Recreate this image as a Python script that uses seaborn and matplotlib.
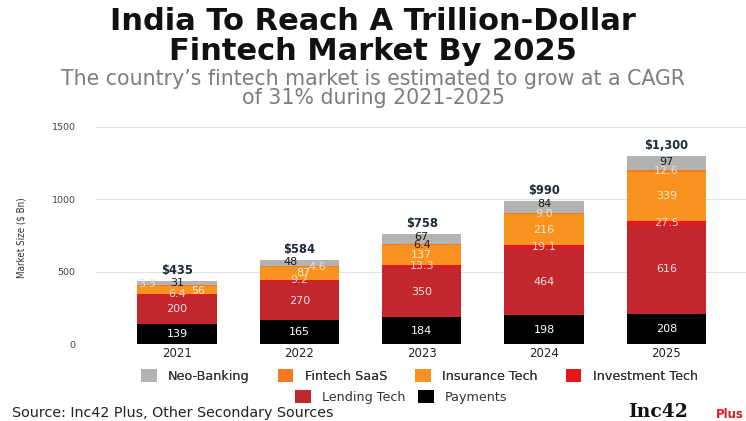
import matplotlib
matplotlib.use("Agg")
import matplotlib.pyplot as plt
from matplotlib.patches import Patch
import pandas as pd
import seaborn as sns

# Market size by segment, US$ billion
years = ["2021", "2022", "2023", "2024", "2025"]
payments = [139, 165, 184, 198, 208]
lending_tech = [200, 270, 350, 464, 616]
investment_tech = [6.4, 9.2, 13.3, 19.1, 27.5]
insurance_tech = [56, 87, 137, 216, 339]
fintech_saas = [3.3, 4.6, 6.4, 9.0, 12.6]
neo_banking = [31, 48, 67, 84, 97]
total_labels = ["$435", "$584", "$758", "$990", "$1,300"]

# stacking order, bottom to top: (name, values, fill, decimals shown)
segments = [
    ("Payments", payments, "#000000", 0),
    ("Lending Tech", lending_tech, "#c1272d", 0),
    ("Investment Tech", investment_tech, "#e8151c", 1),
    ("Insurance Tech", insurance_tech, "#f7931e", 0),
    ("Fintech SaaS", fintech_saas, "#f47a20", 1),
    ("Neo-Banking", neo_banking, "#b3b3b3", 0),
]
label_colors = {
    "Payments": "#ffffff",
    "Lending Tech": "#f8e0e0",
    "Investment Tech": "#f9d2d2",
    "Insurance Tech": "#fdeccf",
    "Fintech SaaS": "#fcdcbc",
    "Neo-Banking": "#1a1a1a",
}

sns.set_theme(style="white")
plt.rcParams["font.family"] = ["DejaVu Sans"]

fig = plt.figure(figsize=(7.46, 4.21), dpi=100)
ax = fig.add_axes([95 / 746, 77 / 421, 651 / 746, 217 / 421])

# cumulative tops of each layer
rows = []
running = [0.0] * len(years)
for name, vals, color, dec in segments:
    bottoms = list(running)
    running = [b + v for b, v in zip(running, vals)]
    for i, y in enumerate(years):
        rows.append(dict(year=y, segment=name, value=vals[i], dec=dec,
                         bottom=bottoms[i], top=running[i], color=color))
df = pd.DataFrame(rows)

# draw from the top layer downwards so each bar covers the one above's lower part
for name, vals, color, dec in reversed(segments):
    sub = df[df["segment"] == name]
    sns.barplot(data=sub, x="year", y="top", order=years, color=color,
                saturation=1, width=0.65, linewidth=0, ax=ax, zorder=2)

# nudges for the crowded small segments (x in category units, y in $ Bn)
nudges = {
    (0, "Fintech SaaS"): (-0.245, 12),
    (0, "Insurance Tech"): (0.17, -7),
    (1, "Fintech SaaS"): (0.15, 0),
    (1, "Neo-Banking"): (-0.07, 4),
    (1, "Insurance Tech"): (0.03, 0),
    (2, "Neo-Banking"): (0, 18),
    (2, "Fintech SaaS"): (0, -4),
    (3, "Neo-Banking"): (0, 22),
    (4, "Neo-Banking"): (0, 6),
}

for _, r in df.iterrows():
    i = years.index(r["year"])
    v = r["value"]
    txt = f"{v:.{int(r['dec'])}f}"
    dx, dy = nudges.get((i, r["segment"]), (0, 0))
    col = label_colors[r["segment"]]
    if r["segment"] == "Fintech SaaS" and r["year"] == "2023":
        col = "#4a1406"
    ax.text(i + dx, r["bottom"] + v / 2 + dy, txt, ha="center", va="center",
            fontsize=8, color=col, zorder=5)

for i, lab in enumerate(total_labels):
    ax.text(i, running[i] + 72, lab, ha="center", va="center",
            fontsize=8.3, fontweight="bold", color="#1c2a3a", zorder=5)

ax.set_xlim(-0.67, 4.65)
ax.set_ylim(0, 1500)
ax.set_yticks([0, 500, 1000, 1500])
ax.grid(axis="y", color="#e2e2e2", linewidth=0.8, zorder=0)
ax.set_axisbelow(True)
for s in ax.spines.values():
    s.set_visible(False)
ax.set_xlabel("")
ax.set_ylabel("")
ax.tick_params(axis="y", length=0, pad=14, labelsize=6.8, labelcolor="#444444")
ax.tick_params(axis="x", length=0, pad=2, labelsize=8.5, labelcolor="#222222")

fig.text(0.029, 1 - 238 / 421, "Market Size ($ Bn)", rotation=90, ha="center",
         va="center", fontsize=7, color="#333333", fontstretch="condensed")

# titles
fig.text(0.5, 1 - 22 / 421, "India To Reach A Trillion-Dollar", ha="center",
         va="center", fontsize=22, fontweight="bold", color="#111111")
fig.text(0.5, 1 - 51 / 421, "Fintech Market By 2025", ha="center",
         va="center", fontsize=22, fontweight="bold", color="#111111")
fig.text(0.5, 1 - 79 / 421,
         "The country\u2019s fintech market is estimated to grow at a CAGR",
         ha="center", va="center", fontsize=14.8, color="#7d7d7d")
fig.text(0.5, 1 - 98 / 421, "of 31% during 2021-2025", ha="center",
         va="center", fontsize=14.8, color="#7d7d7d")

# legend in two centred rows
handles = {name: Patch(facecolor=color, edgecolor="none")
           for name, _, color, _ in segments}
row1 = ["Neo-Banking", "Fintech SaaS", "Insurance Tech", "Investment Tech"]
row2 = ["Lending Tech", "Payments"]
common = dict(frameon=False, loc="center", handlelength=1.2, handleheight=1.2,
              handletextpad=0.9, borderpad=0, fontsize=9.2,
              labelcolor="#333333")
leg1 = fig.legend([handles[n] for n in row1], row1, ncol=4,
                  bbox_to_anchor=(419.5 / 746, 1 - 376 / 421),
                  columnspacing=2.2, **common)
fig.add_artist(leg1)
fig.legend([handles[n] for n in row2], row2, ncol=2,
           bbox_to_anchor=(401.5 / 746, 1 - 397 / 421),
           columnspacing=1.0, **common)

fig.text(12 / 746, 1 - 413 / 421, "Source: Inc42 Plus, Other Secondary Sources",
         ha="left", va="center", fontsize=10.3, color="#222222")
fig.text(628 / 746, 1 - 412 / 421, "Inc42", ha="left", va="center",
         fontsize=13.5, fontweight="bold", color="#111111",
         family=["DejaVu Serif"])
fig.text(744 / 746, 1 - 414 / 421, "Plus", ha="right", va="center",
         fontsize=8.5, fontweight="bold", color="#e8151c")

fig.savefig("out.png", dpi=100)
